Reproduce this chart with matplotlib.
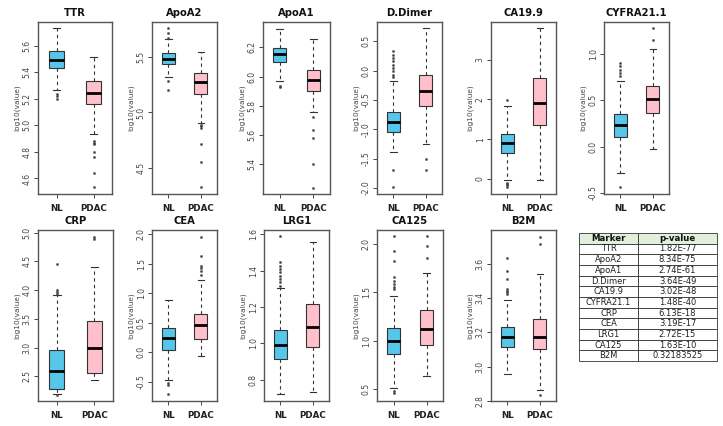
# Boxplots of log10 marker levels, NL vs PDAC, with p-value table
import matplotlib.pyplot as plt

markers = ["TTR", "ApoA2", "ApoA1", "D.Dimer", "CA19.9", "CYFRA21.1",
           "CRP", "CEA", "LRG1", "CA125", "B2M"]

# box statistics (log10 scale)
nl_whislo = [5.263, 5.319, 5.966, -1.379, -0.025, -0.288, 2.198, -0.466, 0.722, 0.510, 2.958]
nl_q1 = [5.431, 5.437, 6.101, -1.049, 0.647, 0.101, 2.285, 0.038, 0.913, 0.863, 3.113]
nl_med = [5.489, 5.485, 6.154, -0.878, 0.899, 0.227, 2.593, 0.246, 0.991, 0.997, 3.175]
nl_q3 = [5.557, 5.536, 6.195, -0.696, 1.126, 0.353, 2.953, 0.414, 1.073, 1.127, 3.233]
nl_whishi = [5.733, 5.663, 6.328, -0.183, 1.840, 0.709, 3.913, 0.890, 1.304, 1.459, 3.387]

pd_whislo = [4.933, 4.904, 5.755, -1.248, -0.025, -0.029, 2.442, -0.074, 0.733, 0.630, 2.862]
pd_q1 = [5.160, 5.163, 5.902, -0.610, 1.360, 0.360, 2.558, 0.229, 0.982, 0.955, 3.103]
pd_med = [5.243, 5.274, 5.978, -0.354, 1.924, 0.511, 2.994, 0.459, 1.087, 1.120, 3.175]
pd_q3 = [5.331, 5.352, 6.046, -0.081, 2.540, 0.655, 3.465, 0.638, 1.218, 1.315, 3.277]
pd_whishi = [5.519, 5.545, 6.255, 0.728, 3.800, 1.054, 4.407, 1.232, 1.558, 1.699, 3.538]

nl_fliers = [
    [5.235, 5.218, 5.200],
    [5.762, 5.717, 5.672, 5.280, 5.205],
    [5.936, 5.927],
    [-1.692, -1.989, -0.109, -0.069, -0.013, 0.044, 0.101, 0.158, 0.215, 0.272, 0.329],
    [1.990, -0.090, -0.120, -0.150, -0.190],
    [0.899, 0.863, 0.827, 0.791, 0.755, -0.439],
    [4.448, 4.000, 3.970, 3.940, 2.180],
    [-0.522, -0.567, -0.707],
    [1.318, 1.336, 1.355, 1.373, 1.391, 1.409, 1.427, 1.445, 1.591],
    [1.538, 1.560, 1.590, 1.620, 1.657, 1.829, 1.932, 2.086, 0.476, 0.452],
    [3.422, 3.432, 3.442, 3.451, 3.509, 3.557, 3.631],
]
pd_fliers = [
    [4.880, 4.870, 4.860, 4.800, 4.765, 4.644, 4.533],
    [4.889, 4.875, 4.858, 4.714, 4.557, 4.325],
    [5.721, 5.634, 5.581, 5.398, 5.237],
    [-1.505, -1.692],
    [],
    [1.277, 1.144],
    [4.919, 4.884],
    [1.316, 1.383, 1.428, 1.467, 1.636, 1.961],
    [],
    [1.856, 1.983, 2.086],
    [3.712, 3.757, 2.833],
]

y_limits = [(4.483, 5.779), (4.265, 5.816), (5.194, 6.374), (-2.102, 0.830),
            (-0.378, 3.95), (-0.511, 1.342), (2.07, 5.047), (-0.831, 2.073),
            (0.682, 1.624), (0.373, 2.147), (2.80, 3.795)]
y_ticks = [
    ["4.6", "4.8", "5.0", "5.2", "5.4", "5.6"],
    ["4.5", "5.0", "5.5"],
    ["5.4", "5.6", "5.8", "6.0", "6.2"],
    ["-2.0", "-1.5", "-1.0", "-0.5", "0.0", "0.5"],
    ["0", "1", "2", "3"],
    ["-0.5", "0.0", "0.5", "1.0"],
    ["2.5", "3.0", "3.5", "4.0", "4.5", "5.0"],
    ["-0.5", "0.0", "0.5", "1.0", "1.5", "2.0"],
    ["0.8", "1.0", "1.2", "1.4", "1.6"],
    ["0.5", "1.0", "1.5", "2.0"],
    ["2.8", "3.0", "3.2", "3.4", "3.6"],
]

p_values = ["1.82E-77", "8.34E-75", "2.74E-61", "3.64E-49", "3.02E-48", "1.48E-40",
            "6.13E-18", "3.19E-17", "2.72E-15", "1.63E-10", "0.32183525"]

# panel frames in pixels: (left, right, top, bottom)
frames = [(38, 112, 22, 194), (152, 217, 22, 194), (263, 330, 22, 194),
          (377, 442, 22, 194), (491, 556, 22, 194), (604, 669, 22, 194),
          (38, 113, 230, 401), (152, 217, 230, 401), (264, 329, 230, 401),
          (377, 443, 230, 401), (491, 556, 230, 401)]

W, H = 723, 426
fig = plt.figure(figsize=(W / 100, H / 100), dpi=100)

nl_color = "#56C6E9"
pdac_color = "#FFC0CB"
edge = "#333333"

for i, name in enumerate(markers):
    l, r, t, b = frames[i]
    ax = fig.add_axes([l / W, (H - b) / H, (r - l) / W, (b - t) / H])
    stats = [
        dict(whislo=nl_whislo[i], q1=nl_q1[i], med=nl_med[i], q3=nl_q3[i],
             whishi=nl_whishi[i], fliers=nl_fliers[i]),
        dict(whislo=pd_whislo[i], q1=pd_q1[i], med=pd_med[i], q3=pd_q3[i],
             whishi=pd_whishi[i], fliers=pd_fliers[i]),
    ]
    bp = ax.bxp(stats, positions=[1, 2], widths=0.4, capwidths=0.2,
                patch_artist=True,
                boxprops=dict(edgecolor=edge, linewidth=0.8),
                whiskerprops=dict(color=edge, linewidth=0.8, linestyle=(0, (3, 3))),
                capprops=dict(color=edge, linewidth=0.8),
                medianprops=dict(color="black", linewidth=2),
                flierprops=dict(marker="o", markersize=1.6, markerfacecolor="#444444",
                                markeredgecolor="#444444", markeredgewidth=0.3))
    bp["boxes"][0].set_facecolor(nl_color)
    bp["boxes"][1].set_facecolor(pdac_color)

    ax.set_xlim(0.5, 2.5)
    ax.set_ylim(*y_limits[i])
    ax.set_yticks([float(v) for v in y_ticks[i]])
    ax.set_yticklabels(y_ticks[i], rotation=90, va="center", fontsize=5.5, color="#444444")
    ax.set_xticks([1, 2])
    ax.set_xticklabels(["NL", "PDAC"], fontsize=6.3, fontweight="bold", color="#222222")
    ax.tick_params(axis="both", length=3, width=0.7, color="#444444", pad=1.5)
    ax.tick_params(axis="x", pad=4)
    for sp in ax.spines.values():
        sp.set_color("#555555")
        sp.set_linewidth(1.0)
    ax.set_title(name, fontsize=7.2, fontweight="bold", pad=4, color="#111111")
    ax.set_ylabel("log10(value)", fontsize=5.3, labelpad=2, color="#444444")

# p-value table
tx0, tx1, ty0, ty1 = 579, 717, 233, 361
ax_t = fig.add_axes([tx0 / W, (H - ty1) / H, (tx1 - tx0) / W, (ty1 - ty0) / H])
ax_t.axis("off")
tbl = ax_t.table(cellText=[[m, p] for m, p in zip(markers, p_values)],
                 colLabels=["Marker", "p-value"], cellLoc="center",
                 colWidths=[59 / 138, 79 / 138], bbox=[0, 0, 1, 1])
tbl.auto_set_font_size(False)
for (row, col), cell in tbl.get_celld().items():
    cell.set_edgecolor("#333333")
    cell.set_linewidth(0.6)
    cell.set_text_props(fontsize=6, color="#222222")
    if row == 0:
        cell.set_facecolor("#E2EFDA")
        cell.set_text_props(fontweight="bold", fontsize=6.2, color="#111111")

fig.savefig("out.png", dpi=100)
